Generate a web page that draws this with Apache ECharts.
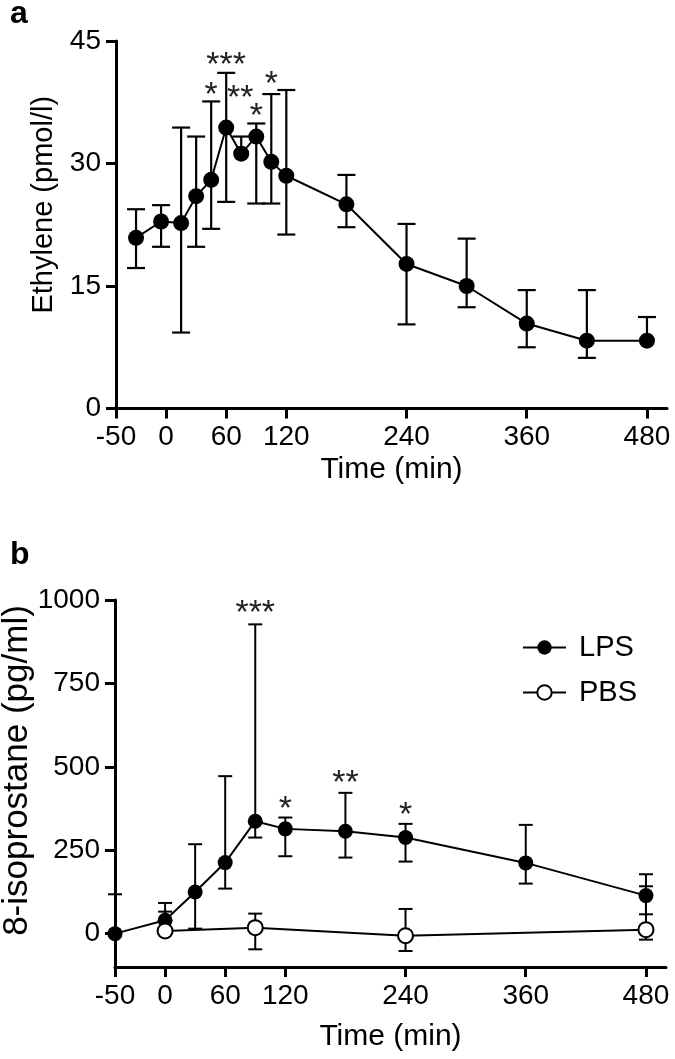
<!DOCTYPE html>
<html>
<head>
<meta charset="utf-8">
<script src="https://cdn.jsdelivr.net/npm/echarts@6/dist/echarts.min.js"></script>
<style>
html, body { margin: 0; padding: 0; background: #fff; }
#main { width: 675px; height: 1059px; }
</style>
</head>
<body>
<div id="main"></div>
<script>
// ---- panel a : ethylene ----
var ethTime  = [-30, -5, 15, 30, 45, 60, 75, 90, 105, 120, 180, 240, 300, 360, 420, 480];
var ethMean  = [20.9, 22.9, 22.7, 26.0, 28.0, 34.4, 31.2, 33.3, 30.2, 28.5, 25.0, 17.7, 15.0, 10.4, 8.3, 8.3];
var ethUpper = [24.4, 24.9, 34.4, 33.3, 37.6, 41.1, 33.3, 34.9, 38.5, 39.0, 28.6, 22.6, 20.8, 14.5, 14.5, 11.2];
var ethLower = [17.2, 19.8, 9.3, 19.8, 22.0, 25.3, null, 25.1, 25.1, 21.3, 22.2, 10.3, 12.4, 7.5, 6.2, null];
var ethStars = [[45, 39.2, '*'], [60, 42.8, '***'], [74, 38.8, '**'], [90, 36.6, '*'], [105, 40.5, '*']];

// ---- panel b : 8-isoprostane ----
var lpsTime  = [-50, 0, 30, 60, 90, 120, 180, 240, 360, 480];
var lpsMean  = [0, 40, 125, 213, 337, 314, 307, 288, 212, 114];
var lpsUpper = [118, 92, 268, 472, 927, 348, 422, 329, 326, 178];
var lpsLower = [null, null, 15, 135, 288, 232, 228, 216, 150, 58];
var pbsTime  = [0, 90, 240, 480];
var pbsMean  = [8, 18, -6, 12];
var pbsUpper = [66, 60, 74, 142];
var pbsLower = [null, -47, -52, -18];
var isoStars = [[90, 980, '***'], [120, 392, '*'], [180, 470, '**'], [240, 375, '*']];

var timeTicks = [-50, 0, 60, 120, 240, 360, 480];
var ethTicks = [0, 15, 30, 45];
var isoTicks = [0, 250, 500, 750, 1000];

var FONT = '"Liberation Sans", Arial, Helvetica, sans-serif';
var STAR_SIZE = 34;

function pairs(xs, ys) {
    var out = [];
    for (var i = 0; i < xs.length; i++) out.push([xs[i], ys[i]]);
    return out;
}

// [time, low, high, hasLowCap]
function barData(xs, mean, up, low) {
    var out = [];
    for (var i = 0; i < xs.length; i++) {
        out.push([xs[i], low[i] == null ? mean[i] : low[i], up[i], low[i] == null ? 0 : 1]);
    }
    return out;
}

function errorBars(halfCap, width) {
    return function (params, api) {
        var x = api.value(0);
        var top = api.coord([x, api.value(2)]);
        var bot = api.coord([x, api.value(1)]);
        var st = { stroke: '#000', lineWidth: width };
        var kids = [
            { type: 'line', shape: { x1: top[0], y1: top[1], x2: bot[0], y2: bot[1] }, style: st },
            { type: 'line', shape: { x1: top[0] - halfCap, y1: top[1], x2: top[0] + halfCap, y2: top[1] }, style: st }
        ];
        if (api.value(3)) {
            kids.push({ type: 'line', shape: { x1: bot[0] - halfCap, y1: bot[1], x2: bot[0] + halfCap, y2: bot[1] }, style: st });
        }
        return { type: 'group', children: kids };
    };
}

// asterisk glyph sits high in its box, push it down a bit
function starText(list) {
    return function (params, api) {
        var p = api.coord([api.value(0), api.value(1)]);
        return {
            type: 'text',
            x: p[0],
            y: p[1] + STAR_SIZE * 0.2,
            style: {
                text: list[params.dataIndex][2],
                fill: '#222',
                fontSize: STAR_SIZE,
                fontFamily: FONT,
                align: 'center',
                verticalAlign: 'middle'
            }
        };
    };
}

function xAxisCfg(grid, nameGap) {
    return {
        type: 'value', gridIndex: grid, min: -50, max: 500,
        name: 'Time (min)', nameLocation: 'middle', nameGap: nameGap,
        nameMoveOverlap: false,
        nameTextStyle: { fontSize: 30, fontFamily: FONT, color: '#000' },
        axisLine: { onZero: false, lineStyle: { color: '#000', width: 3 } },
        axisTick: { customValues: timeTicks, length: 10, lineStyle: { width: 3, color: '#000' } },
        axisLabel: { customValues: timeTicks, fontSize: 28, fontFamily: FONT, color: '#000', margin: 15 },
        splitLine: { show: false }
    };
}

function yAxisCfg(grid, name, min, max, ticks, nameSize, nameGap, shift) {
    return {
        type: 'value', gridIndex: grid, min: min, max: max,
        name: name, nameLocation: 'middle', nameGap: nameGap,
        nameMoveOverlap: false,
        nameTextStyle: { fontSize: nameSize, fontFamily: FONT, color: '#000', padding: [0, 0, 0, shift] },
        axisLine: { show: true, onZero: false, lineStyle: { color: '#000', width: 3 } },
        axisTick: { show: true, customValues: ticks, length: 10, lineStyle: { width: 3, color: '#000' } },
        axisLabel: {
            customValues: ticks, fontSize: 28, fontFamily: FONT, color: '#000', margin: 15,
            formatter: function (v) { return String(v); }
        },
        splitLine: { show: false }
    };
}

var myChart = echarts.init(document.getElementById('main'));

var option = {
    backgroundColor: '#fff',
    animation: false,
    title: [
        { text: 'a', left: 10, top: -2, padding: 0, textStyle: { fontSize: 32, fontWeight: 'bold', fontFamily: FONT, color: '#000' } },
        { text: 'b', left: 10, top: 539, padding: 0, textStyle: { fontSize: 32, fontWeight: 'bold', fontFamily: FONT, color: '#000' } }
    ],
    legend: {
        data: ['LPS', 'PBS'],
        orient: 'vertical',
        left: 522,
        top: 633,
        padding: 0,
        itemWidth: 43,
        itemHeight: 18,
        itemGap: 16,
        textStyle: { fontSize: 29, fontFamily: FONT, color: '#000', padding: [0, 0, 0, 8] }
    },
    grid: [
        { left: 116, top: 41, width: 551, height: 367.5, outerBoundsMode: 'none' },
        { left: 115, top: 600, width: 551, height: 367, outerBoundsMode: 'none' }
    ],
    xAxis: [xAxisCfg(0, 46), xAxisCfg(1, 55)],
    yAxis: [
        yAxisCfg(0, 'Ethylene (pmol/l)', 0, 45, ethTicks, 29, 58, 40),
        yAxisCfg(1, '8-isoprostane (pg/ml)', -100, 1000, isoTicks, 35, 80, 26)
    ],
    series: [
        {
            type: 'custom', name: 'ethErr', xAxisIndex: 0, yAxisIndex: 0,
            renderItem: errorBars(9, 2.2), encode: { x: 0, y: [1, 2] },
            data: barData(ethTime, ethMean, ethUpper, ethLower), z: 1, silent: true
        },
        {
            type: 'line', name: 'Ethylene', xAxisIndex: 0, yAxisIndex: 0,
            data: pairs(ethTime, ethMean),
            symbol: 'circle', symbolSize: 16,
            itemStyle: { color: '#000' },
            lineStyle: { color: '#000', width: 2 }, z: 3
        },
        {
            type: 'custom', name: 'ethStars', xAxisIndex: 0, yAxisIndex: 0,
            renderItem: starText(ethStars), data: ethStars.map(function (s) { return [s[0], s[1]]; }), z: 4, silent: true
        },
        {
            type: 'custom', name: 'lpsErr', xAxisIndex: 1, yAxisIndex: 1,
            renderItem: errorBars(7, 2), encode: { x: 0, y: [1, 2] },
            data: barData(lpsTime, lpsMean, lpsUpper, lpsLower), z: 1, silent: true
        },
        {
            type: 'custom', name: 'pbsErr', xAxisIndex: 1, yAxisIndex: 1,
            renderItem: errorBars(7, 2), encode: { x: 0, y: [1, 2] },
            data: barData(pbsTime, pbsMean, pbsUpper, pbsLower), z: 1, silent: true
        },
        {
            type: 'line', name: 'LPS', xAxisIndex: 1, yAxisIndex: 1,
            data: pairs(lpsTime, lpsMean),
            symbol: 'circle', symbolSize: 15,
            itemStyle: { color: '#000' },
            lineStyle: { color: '#000', width: 2 }, z: 3
        },
        {
            type: 'line', name: 'PBS', xAxisIndex: 1, yAxisIndex: 1,
            data: pairs(pbsTime, pbsMean),
            symbol: 'circle', symbolSize: 15,
            itemStyle: { color: '#fff', borderColor: '#000', borderWidth: 2 },
            lineStyle: { color: '#000', width: 2 }, z: 3
        },
        {
            type: 'custom', name: 'isoStars', xAxisIndex: 1, yAxisIndex: 1,
            renderItem: starText(isoStars), data: isoStars.map(function (s) { return [s[0], s[1]]; }), z: 4, silent: true
        }
    ]
};

myChart.setOption(option);
</script>
</body>
</html>
